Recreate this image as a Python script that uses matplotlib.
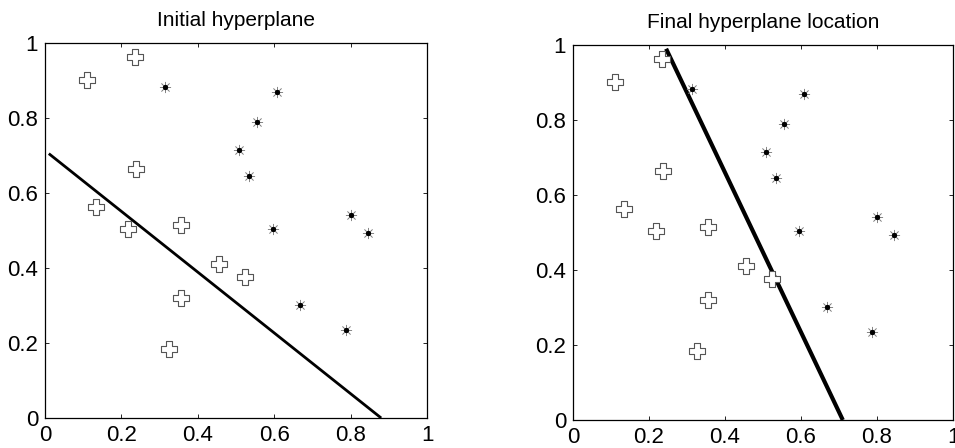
import matplotlib
matplotlib.use("Agg")
import matplotlib.pyplot as plt
from matplotlib.path import Path
import numpy as np

plt.rcParams["font.family"] = ["Liberation Sans", "DejaVu Sans"]

# class 1 (open cross-shaped markers)
cls_a_x = [0.11, 0.235, 0.238, 0.134, 0.218, 0.356, 0.456, 0.524, 0.356, 0.325]
cls_a_y = [0.90, 0.963, 0.663, 0.562, 0.505, 0.514, 0.412, 0.375, 0.321, 0.183]

# class 2 (asterisks)
cls_b_x = [0.314, 0.608, 0.554, 0.507, 0.533, 0.801, 0.846, 0.596, 0.668, 0.788]
cls_b_y = [0.882, 0.870, 0.788, 0.715, 0.644, 0.540, 0.494, 0.504, 0.301, 0.235]

# hyperplane end points
init_x = [0.01, 0.88]
init_y = [0.705, 0.0]
final_x = [0.245, 0.71]
final_y = [0.99, 0.0]

ticks = [0, 0.2, 0.4, 0.6, 0.8, 1]
tick_labels = ["0", "0.2", "0.4", "0.6", "0.8", "1"]

# rounded plus outline, like the low-res circles in the scan
a, b = 0.42, 1.0
cross_verts = [(-a, b), (a, b), (a, a), (b, a), (b, -a), (a, -a), (a, -b),
               (-a, -b), (-a, -a), (-b, -a), (-b, a), (-a, a), (-a, b)]
cross = Path(cross_verts, closed=True)


def draw_panel(ax, lx, ly, lw, title):
    ax.plot(lx, ly, color="black", linewidth=lw, solid_capstyle="butt", zorder=2)
    ax.plot(cls_a_x, cls_a_y, linestyle="none", marker=cross, markersize=11,
            markerfacecolor="white", markeredgecolor="#555555",
            markeredgewidth=0.8, zorder=3)
    ax.plot(cls_b_x, cls_b_y, linestyle="none", marker=(8, 2, 0), markersize=8,
            color="#888888", markeredgewidth=0.5, zorder=3)
    ax.plot(cls_b_x, cls_b_y, linestyle="none", marker="o", markersize=2.8,
            color="black", zorder=4)
    ax.set_xlim(0, 1)
    ax.set_ylim(0, 1)
    ax.set_xticks(ticks)
    ax.set_xticklabels(tick_labels)
    ax.set_yticks(ticks)
    ax.set_yticklabels(tick_labels)
    ax.tick_params(direction="in", length=3, width=0.6, top=True, right=True,
                   labelsize=16, pad=5)
    for s in ax.spines.values():
        s.set_linewidth(0.9)
    ax.set_title(title, fontsize=15, pad=12)


fig = plt.figure(figsize=(9.55, 4.48), dpi=100)
ax1 = fig.add_axes([45 / 955, 30 / 448, 382 / 955, 375 / 448])
ax2 = fig.add_axes([573 / 955, 28 / 448, 380 / 955, 375 / 448])

draw_panel(ax1, init_x, init_y, 2.0, "Initial hyperplane")
draw_panel(ax2, final_x, final_y, 3.0, "Final hyperplane location")

fig.savefig("out.png", dpi=100)
